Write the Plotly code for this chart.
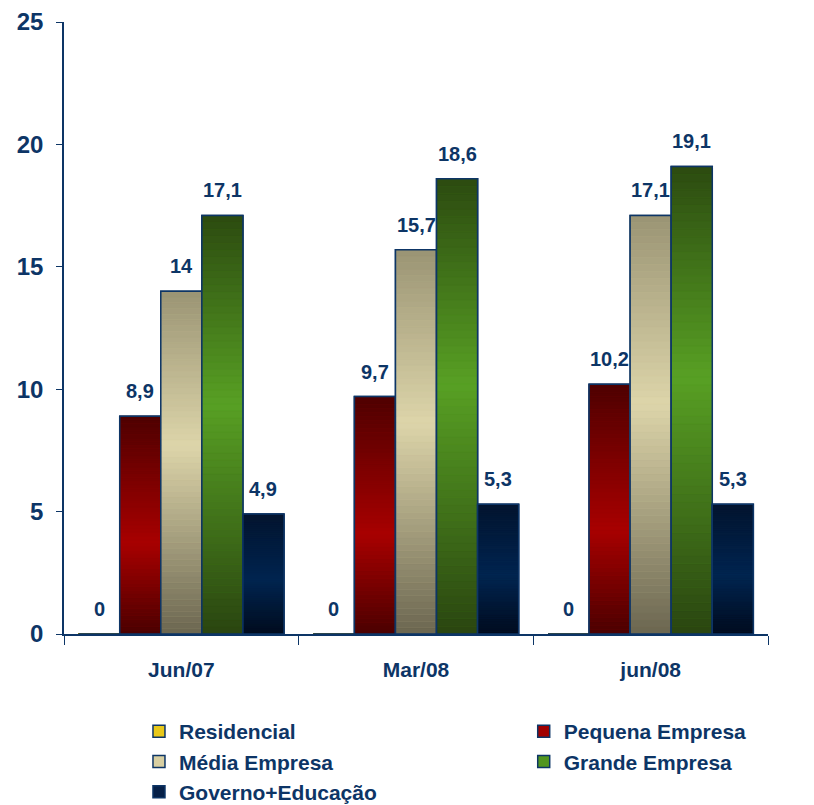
import plotly.graph_objects as go

categories = ["Jun/07", "Mar/08", "jun/08"]
series_names = ["Residencial", "Pequena Empresa", "Média Empresa", "Grande Empresa", "Governo+Educação"]
residencial = [0, 0, 0]
pequena = [8.9, 9.7, 10.2]
media = [14, 15.7, 17.1]
grande = [17.1, 18.6, 19.1]
governo = [4.9, 5.3, 5.3]
y_ticks = [0, 5, 10, 15, 20, 25]

series_values = [residencial, pequena, media, grande, governo]
legend_of = ["legend", "legend2", "legend", "legend2", "legend"]

NAVY = "#0D3566"
FONT = "Liberation Sans"

# gradient stops (top, bright, bottom) and position of bright stop (from top)
gradients = [
    ("#8A7400", "#F2D21E", "#7A6600", 0.5),
    ("#4E0000", "#A80000", "#4A0000", 0.58),
    ("#9A9474", "#DDD5AA", "#6B6650", 0.45),
    ("#2C4A10", "#58A024", "#2A4510", 0.45),
    ("#041530", "#002550", "#000C1E", 0.55),
]
mid_colors = ["#E8C81A", "#A00000", "#D8CFA2", "#52961F", "#062048"]


def hex2rgb(h):
    h = h.lstrip("#")
    return tuple(int(h[i:i + 2], 16) for i in (0, 2, 4))


def lerp(c1, c2, t):
    a, b = hex2rgb(c1), hex2rgb(c2)
    return "rgb(%d,%d,%d)" % tuple(round(a[i] + (b[i] - a[i]) * t) for i in range(3))


def grad_color(g, frac_from_top):
    top, bright, bottom, p = g
    if frac_from_top <= p:
        return lerp(top, bright, frac_from_top / p)
    return lerp(bright, bottom, (frac_from_top - p) / (1 - p))


W = 0.175
N = 60
fig = go.Figure()

for i, (name, vals) in enumerate(zip(series_names, series_values)):
    off = (i - 2.5) * W
    # base fill (used for legend swatch)
    fig.add_trace(go.Bar(
        x=categories, y=vals, name=name, offset=off, width=W,
        legend=legend_of[i],
        marker=dict(color=mid_colors[i], line=dict(color=NAVY, width=1.5)),
        hoverinfo="skip",
    ))
    # gradient slices
    for k in range(N):
        frac_top = 1 - (k + 0.5) / N
        c = grad_color(gradients[i], frac_top)
        fig.add_trace(go.Bar(
            x=categories, y=[v / N for v in vals], base=[v * k / N for v in vals],
            offset=off, width=W, showlegend=False, hoverinfo="skip",
            marker=dict(color=c, line=dict(color=c, width=0.5)),
        ))
    # outline
    fig.add_trace(go.Bar(
        x=categories, y=vals, offset=off, width=W, showlegend=False,
        marker=dict(color="rgba(0,0,0,0)", line=dict(color=NAVY, width=1.5)),
        hovertemplate=name + ": %{y}<extra></extra>",
    ))
    for j, v in enumerate(vals):
        fig.add_annotation(
            x=j + off + W / 2, y=v, text=f"{v:g}".replace(".", ","),
            showarrow=False, yanchor="bottom", yshift=12,
            font=dict(family=FONT, size=20, color=NAVY, weight="bold"),
        )

legend_font = dict(family=FONT, size=21, color=NAVY, weight="bold")
fig.update_layout(
    width=814, height=805,
    barmode="overlay",
    paper_bgcolor="white", plot_bgcolor="white",
    margin=dict(l=64, r=46, t=22, b=171, autoexpand=False),
    font=dict(family=FONT, color=NAVY, weight="bold"),
    showlegend=True,
    legend=dict(
        orientation="v", x=0.1065, xanchor="left", y=-0.126, yanchor="top",
        font=legend_font, itemclick=False, itemdoubleclick=False,
        bgcolor="rgba(0,0,0,0)",
    ),
    legend2=dict(
        orientation="v", x=0.653, xanchor="left", y=-0.126, yanchor="top",
        font=legend_font, itemclick=False, itemdoubleclick=False,
        bgcolor="rgba(0,0,0,0)",
    ),
)
fig.update_xaxes(
    type="category", tickson="boundaries", ticks="outside", ticklen=9,
    tickcolor=NAVY, showline=True, linecolor=NAVY, linewidth=1.5,
    showgrid=False, ticklabelstandoff=16,
    tickfont=dict(family=FONT, size=21, color=NAVY, weight="bold"),
    range=[-0.5, 2.5],
)
fig.update_yaxes(
    range=[0, 25], tickvals=y_ticks, ticks="outside", ticklen=6,
    tickcolor=NAVY, showline=True, linecolor=NAVY, linewidth=1.5,
    showgrid=False, zeroline=False, ticklabelstandoff=8,
    tickfont=dict(family=FONT, size=24, color=NAVY, weight="bold"),
)

fig.write_html(
    "out.html",
    config={"displayModeBar": False},
    post_script="document.body.style.margin='0';",
)
